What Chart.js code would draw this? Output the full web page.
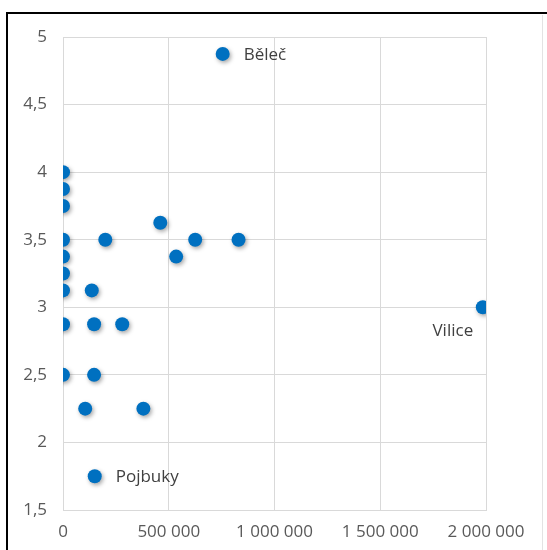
<!DOCTYPE html>
<html>
<head>
<meta charset="utf-8">
<script src="https://cdn.jsdelivr.net/npm/chart.js@4/dist/chart.umd.min.js"></script>
<style>
  html, body { margin: 0; padding: 0; background: #fff; }
  #wrap { position: absolute; left: 0; top: 0; width: 547px; height: 550px; }
  #frameTop { position: absolute; left: 6px; top: 12px; width: 541px; height: 2px; background: #000; }
  #frameLeft { position: absolute; left: 6px; top: 12px; width: 2px; height: 538px; background: #000; }
  #frameRight { position: absolute; left: 542px; top: 15px; width: 1px; height: 535px; background: #e3e3e3; }
  canvas { position: absolute; left: 0; top: 0; }
</style>
</head>
<body>
<div id="wrap">
  <canvas id="c" width="547" height="550"></canvas>
  <div id="frameTop"></div>
  <div id="frameLeft"></div>
  <div id="frameRight"></div>
</div>
<script>
// Data
const xValues = [0, 0, 0, 0, 0, 0, 0, 0, 0,
                 136000, 147000, 147000, 200000, 280000, 460000, 535000, 625000, 830000,
                 105000, 380000, 755000, 150000, 1985000];
const yValues = [4, 3.875, 3.75, 3.5, 3.375, 3.25, 3.125, 2.875, 2.5,
                 3.125, 2.875, 2.5, 3.5, 2.875, 3.625, 3.375, 3.5, 3.5,
                 2.25, 2.25, 4.875, 1.75, 3];
const pointNames = ["", "", "", "", "", "", "", "", "",
                    "", "", "", "", "", "", "", "", "",
                    "", "", "Běleč", "Pojbuky", "Vilice"];
const xTicks = [0, 500000, 1000000, 1500000, 2000000];
const yTicks = [1.5, 2, 2.5, 3, 3.5, 4, 4.5, 5];

const points = xValues.map((x, i) => ({ x: x, y: yValues[i] }));

const FONT = "'Open Sans', 'Liberation Sans', sans-serif";

const shadowPlugin = {
  id: 'shadow',
  beforeDatasetsDraw(chart) {
    const ctx = chart.ctx;
    ctx.save();
    ctx.shadowColor = 'rgba(0,0,0,0.35)';
    ctx.shadowBlur = 4;
    ctx.shadowOffsetX = 1.5;
    ctx.shadowOffsetY = 2;
  },
  afterDatasetsDraw(chart) {
    chart.ctx.restore();
  }
};

const labelPlugin = {
  id: 'pointLabels',
  afterDatasetsDraw(chart) {
    const ctx = chart.ctx;
    const meta = chart.getDatasetMeta(0);
    ctx.save();
    ctx.font = '17px ' + FONT;
    ctx.fillStyle = '#404040';
    ctx.textBaseline = 'middle';
    meta.data.forEach((el, i) => {
      const name = pointNames[i];
      if (!name) return;
      if (name === 'Vilice') {
        ctx.textAlign = 'center';
        ctx.fillText(name, el.x - 30, el.y + 24);
      } else {
        ctx.textAlign = 'left';
        ctx.fillText(name, el.x + 21, el.y + 1);
      }
    });
    ctx.restore();
  }
};

const fmtX = v => String(v).replace(/\B(?=(\d{3})+(?!\d))/g, ' ');
const fmtY = v => String(v).replace('.', ',');

new Chart(document.getElementById('c'), {
  type: 'scatter',
  data: {
    datasets: [{
      data: points,
      backgroundColor: '#0070C0',
      borderColor: '#0070C0',
      borderWidth: 0,
      pointRadius: 7,
      pointHoverRadius: 7
    }]
  },
  options: {
    responsive: false,
    animation: false,
    events: [],
    layout: { padding: { left: 0, top: 37, right: 61, bottom: 0 } },
    plugins: { legend: { display: false }, tooltip: { enabled: false } },
    scales: {
      x: {
        type: 'linear',
        min: 0, max: 2000000,
        afterBuildTicks: s => { s.ticks = xTicks.map(v => ({ value: v })); },
        afterFit: s => { s.height = 40; },
        grid: { color: '#d9d9d9', drawTicks: false },
        border: { color: '#d9d9d9' },
        ticks: {
          padding: 12,
          color: '#595959',
          font: { family: FONT, size: 17 },
          callback: v => fmtX(v),
          maxRotation: 0, autoSkip: false
        }
      },
      y: {
        type: 'linear',
        min: 1.5, max: 5,
        afterBuildTicks: s => { s.ticks = yTicks.map(v => ({ value: v })); },
        afterFit: s => { s.width = 63; },
        grid: { color: '#d9d9d9', drawTicks: false },
        border: { color: '#d9d9d9' },
        ticks: {
          padding: 16,
          color: '#595959',
          font: { family: FONT, size: 17 },
          callback: v => fmtY(v)
        }
      }
    }
  },
  plugins: [shadowPlugin, labelPlugin]
});
</script>
</body>
</html>
